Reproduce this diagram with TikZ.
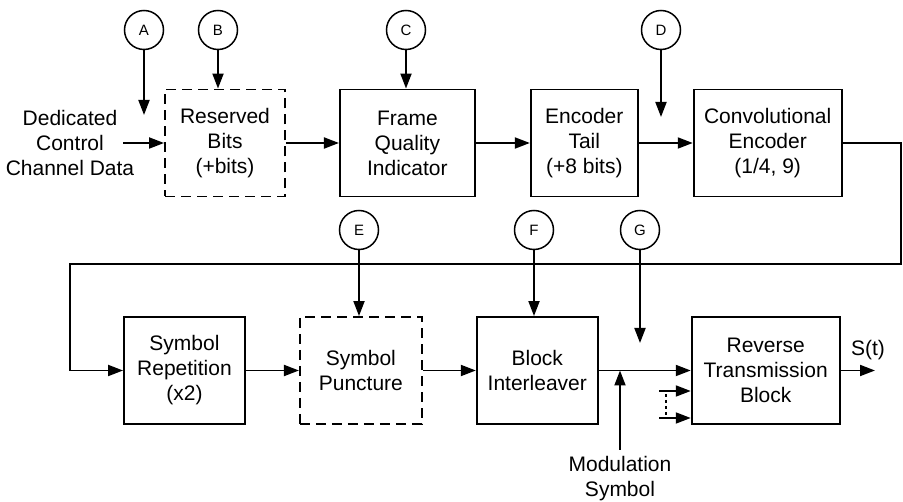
\documentclass[tikz,border=0pt]{standalone}
\usepackage{fontspec}
\setmainfont{Liberation Sans}
\usetikzlibrary{arrows.meta,positioning}

\begin{document}
\begin{tikzpicture}[
    x=1pt, y=1pt,
    node distance=53pt,
    block/.style={draw, line width=1.9pt, align=center, minimum height=107pt, inner sep=2pt},
    dblock/.style={block, dash pattern=on 10pt off 6pt},
    tap/.style={draw, circle, line width=1.5pt, minimum size=39pt, inner sep=0pt, font=\fontsize{15}{17}\selectfont},
    arrow/.style={-{Triangle[length=15pt,width=11pt]}, line width=1.9pt},
    font=\fontsize{21}{25}\selectfont
]
\useasboundingbox (0,0) rectangle (903,-502);

% forward link, first row
\node[align=center] (src) at (70,-143) {Dedicated\\Control\\Channel Data};
\node[dblock, minimum width=120pt] (rb) at (225,-143) {Reserved\\Bits\\(+bits)};
\node[block, minimum width=135pt, right=53pt of rb] (fqi) {Frame\\Quality\\Indicator};
\node[block, minimum width=107pt, right=54pt of fqi] (et) {Encoder\\Tail\\(+8 bits)};
\node[block, minimum width=148pt, right=54pt of et] (ce) {Convolutional\\Encoder\\(1/4, 9)};

% second row
\node[block, minimum width=121pt] (sr) at (184.5,-370.5) {Symbol\\Repetition\\(x2)};
\node[dblock, minimum width=122pt, right=of sr] (sp) {Symbol\\Puncture};
\node[block, minimum width=121pt, right=of sp] (bi) {Block\\Interleaver};
\node[block, minimum width=148pt, right=92pt of bi] (rtb) {Reverse\\Transmission\\Block};
\node (st) at (868,-350) {S(t)};
\node[align=center, anchor=north, inner ysep=6pt] (mod) at (620,-450) {Modulation\\Symbol};

% test points
\node[tap] (a) at (144,-30) {A};
\node[tap] (b) at (218,-30) {B};
\node[tap] (c) at (406,-30) {C};
\node[tap] (d) at (661,-30) {D};
\node[tap] (e) at (359,-230) {E};
\node[tap] (f) at (534,-230) {F};
\node[tap] (g) at (640,-230) {G};

\coordinate (in) at (123,-143);
\coordinate (aEnd) at (144,-115);
\coordinate (dEnd) at (661,-117);
\coordinate (gEnd) at (640,-343);
\coordinate (busR) at (901,-264);
\coordinate (busL) at (70,-264);
\coordinate (out) at (875,-370.5);
\coordinate (x1) at (659,-391);
\coordinate (x2) at (659,-418);

\draw[arrow] (in) -- (rb);
\draw[arrow] (rb) -- (fqi);
\draw[arrow] (fqi) -- (et);
\draw[arrow] (et) -- (ce);
\draw[arrow] (ce.east) -| (busR) -- (busL) |- (sr.west);
\draw[arrow] (sr) -- (sp);
\draw[arrow] (sp) -- (bi);
\draw[arrow] (bi) -- (rtb);
\draw[arrow] (rtb) -- (out);
\draw[arrow] (mod.north) -- (mod.north |- bi.east);

\draw[arrow] (a) -- (aEnd);
\draw[arrow] (b) -- (b |- rb.north);
\draw[arrow] (c) -- (c |- fqi.north);
\draw[arrow] (d) -- (dEnd);
\draw[arrow] (e) -- (e |- sp.north);
\draw[arrow] (f) -- (f |- bi.north);
\draw[arrow] (g) -- (gEnd);

\draw[arrow] (x1) -- (x1 -| rtb.west);
\draw[arrow] (x2) -- (x2 -| rtb.west);
\draw[line width=2.6pt, dash pattern=on 3pt off 3pt] ([shift={(7,-3)}]x1) -- ([shift={(7,3)}]x2);

\end{tikzpicture}
\end{document}
